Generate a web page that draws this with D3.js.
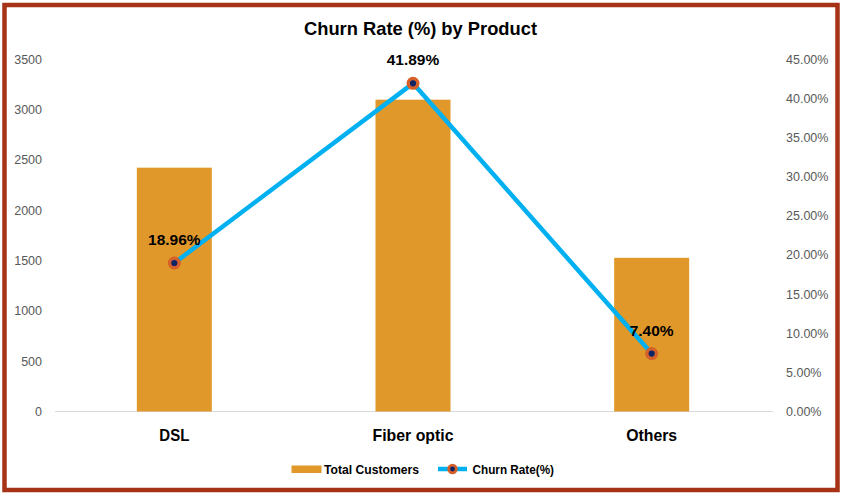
<!DOCTYPE html>
<html>
<head>
<meta charset="utf-8">
<script src="https://cdn.jsdelivr.net/npm/d3@7"></script>
<style>
  html, body { margin: 0; padding: 0; background: #fff; }
  svg { display: block; }
  .narrow { font-family: "Liberation Sans", Arial, sans-serif; font-weight: bold; }
  .tick text { font-family: "Liberation Sans", Arial, sans-serif; font-size: 12.5px; fill: #595959; }
</style>
</head>
<body>
<script>
const products = ['DSL', 'Fiber optic', 'Others'];
const totalCustomers = [2421, 3096, 1526];
const churnRate = [18.96, 41.89, 7.40];
const leftTicks = [0, 500, 1000, 1500, 2000, 2500, 3000, 3500];
const rightTicks = [0, 5, 10, 15, 20, 25, 30, 35, 40, 45];

const width = 842, height = 496;
const margin = {left: 55, right: 71, top: 59, bottom: 84.5};

const svg = d3.select('body').append('svg').attr('width', width).attr('height', height);

svg.append('rect').attr('x', 4.5).attr('y', 5).attr('width', 833).attr('height', 485)
  .attr('fill', '#fff').attr('stroke', '#a63318').attr('stroke-width', 4.5);

const x = d3.scaleBand().domain(products).range([margin.left, width - margin.right]);
const y = d3.scaleLinear().domain([0, 3500]).range([height - margin.bottom, margin.top]);
const y1 = d3.scaleLinear().domain([0, 45]).range([height - margin.bottom, margin.top]);

// the original uses a narrow bold face, squeeze the text to its widths
const widths = {'DSL': 30, 'Fiber optic': 81, 'Others': 51};

// axes
const yAxis = d3.axisLeft(y).tickValues(leftTicks).tickSize(0).tickPadding(13).tickFormat(d3.format('d'));
svg.append('g').attr('transform', `translate(${margin.left},0)`).call(yAxis)
  .call(g => g.select('.domain').remove());

const yAxisR = d3.axisRight(y1).tickValues(rightTicks).tickSize(0).tickPadding(15)
  .tickFormat(d => d.toFixed(2) + '%');
svg.append('g').attr('transform', `translate(${width - margin.right},0)`).call(yAxisR)
  .call(g => g.select('.domain').remove());

svg.append('line')
  .attr('x1', margin.left).attr('x2', width - margin.right + 2)
  .attr('y1', y(0)).attr('y2', y(0))
  .attr('stroke', '#d9d9d9').attr('stroke-width', 1);

// bars
const barW = 75;
svg.append('g').selectAll('rect').data(products).join('rect')
  .attr('x', d => x(d) + x.bandwidth() / 2 - barW / 2)
  .attr('y', (d, i) => y(totalCustomers[i]))
  .attr('width', barW)
  .attr('height', (d, i) => y(0) - y(totalCustomers[i]))
  .attr('fill', '#e1982a');

// line
const cx = d => x(d) + x.bandwidth() / 2;
const line = d3.line().x(d => cx(d)).y((d, i) => y1(churnRate[i]));
svg.append('path').attr('d', line(products)).attr('fill', 'none')
  .attr('stroke', '#00b0f0').attr('stroke-width', 4.5).attr('stroke-linejoin', 'round');

svg.append('g').selectAll('circle').data(products).join('circle')
  .attr('cx', cx).attr('cy', (d, i) => y1(churnRate[i])).attr('r', 4.8)
  .attr('fill', '#0d2466').attr('stroke', '#d6602a').attr('stroke-width', 3.4);

svg.append('g').selectAll('text').data(products).join('text')
  .attr('x', cx).attr('y', (d, i) => y1(churnRate[i]) - 18)
  .attr('text-anchor', 'middle')
  .style('font-family', '"Liberation Sans", Arial, sans-serif')
  .style('font-weight', 'bold').style('font-size', '15.5px').attr('fill', '#000')
  .text((d, i) => churnRate[i].toFixed(2) + '%');

// category labels
svg.append('g').selectAll('text').data(products).join('text')
  .attr('class', 'narrow')
  .attr('x', cx).attr('y', 441)
  .attr('text-anchor', 'middle').style('font-size', '17px').attr('fill', '#000')
  .attr('textLength', d => widths[d]).attr('lengthAdjust', 'spacingAndGlyphs')
  .text(d => d);

// title
svg.append('text').attr('class', 'narrow')
  .attr('x', 420.5).attr('y', 35).attr('text-anchor', 'middle')
  .style('font-size', '18.5px').attr('fill', '#000')
  .attr('textLength', 233).attr('lengthAdjust', 'spacingAndGlyphs')
  .text('Churn Rate (%) by  Product');

// legend
const lg = svg.append('g');
lg.append('rect').attr('x', 291.5).attr('y', 465.5).attr('width', 30).attr('height', 7.5).attr('fill', '#e1982a');
lg.append('text').attr('class', 'narrow').attr('x', 324).attr('y', 473.5)
  .style('font-size', '12.5px').attr('fill', '#000')
  .attr('textLength', 95).attr('lengthAdjust', 'spacingAndGlyphs')
  .text('Total Customers');
lg.append('line').attr('x1', 438).attr('x2', 467).attr('y1', 469).attr('y2', 469)
  .attr('stroke', '#00b0f0').attr('stroke-width', 4.5);
lg.append('circle').attr('cx', 452.5).attr('cy', 469).attr('r', 3.8)
  .attr('fill', '#0d2466').attr('stroke', '#d6602a').attr('stroke-width', 2.8);
lg.append('text').attr('class', 'narrow').attr('x', 472.5).attr('y', 473.5)
  .style('font-size', '12.5px').attr('fill', '#000')
  .attr('textLength', 81.5).attr('lengthAdjust', 'spacingAndGlyphs')
  .text('Churn Rate(%)');
</script>
</body>
</html>
